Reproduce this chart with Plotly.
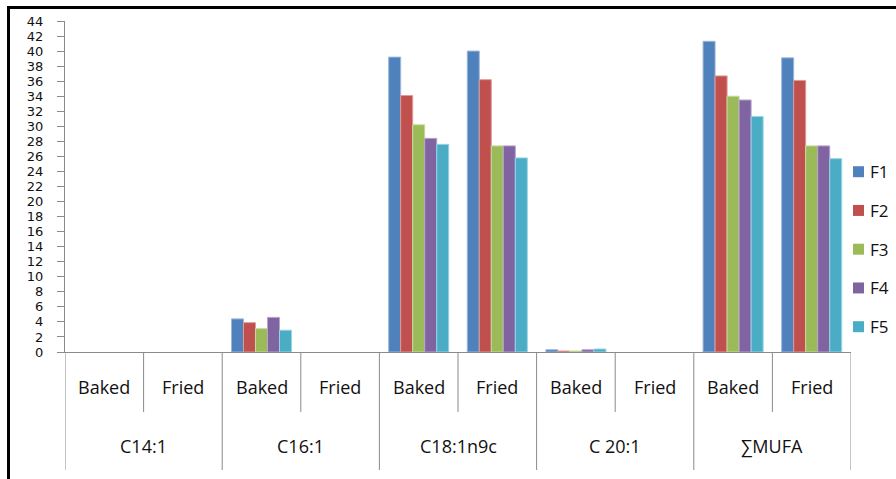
import plotly.graph_objects as go

# Fatty acid groups, cooking methods and formulations
groups = ["C14:1", "C16:1", "C18:1n9c", "C 20:1", "∑MUFA"]
methods = ["Baked", "Fried"]
series_names = ["F1", "F2", "F3", "F4", "F5"]

# Values per formulation, ordered (group, method)
F1 = [0, 0, 4.4, 0, 39.2, 40.0, 0.3, 0, 41.3, 39.1]
F2 = [0, 0, 3.9, 0, 34.1, 36.2, 0.13, 0, 36.7, 36.1]
F3 = [0, 0, 3.1, 0, 30.2, 27.4, 0.13, 0, 34.0, 27.4]
F4 = [0, 0, 4.6, 0, 28.4, 27.4, 0.3, 0, 33.5, 27.4]
F5 = [0, 0, 2.9, 0, 27.6, 25.8, 0.4, 0, 31.3, 25.7]
series_values = [F1, F2, F3, F4, F5]

colors = ["#4F81BD", "#C0504D", "#9BBB59", "#8064A2", "#4BACC6"]
edges = ["#9DB7DA", "#DE9A98", "#C6DA9F", "#B6A4CB", "#98D4E3"]

# Each (group, method) pair gets a slot on a numeric axis
slots = [(g, m) for g in groups for m in methods]
xpos = list(range(len(slots)))

fig = go.Figure()
for name, vals, c, ec in zip(series_names, series_values, colors, edges):
    fig.add_trace(go.Bar(
        x=xpos, y=vals, name=name, showlegend=False,
        marker=dict(color=c,
                    line=dict(color=ec, width=[1 if v > 0 else 0 for v in vals])),
    ))

W, H = 896, 479
L, R, T, B = 65, 851, 21, 352


def py(pix):
    return (B - pix) / (B - T)


def px(pix):
    return (pix - L) / (R - L)


axis_grey = "#8a8a8a"
label_font = dict(family="Open Sans", size=18, color="#111")
shapes = []
annotations = []

# Category axis: group dividers, method dividers and two rows of labels
for k in range(len(groups) + 1):
    shapes.append(dict(type="line", xref="x", yref="paper",
                       x0=-0.5 + 2 * k, x1=-0.5 + 2 * k, y0=0, y1=py(470),
                       line=dict(color=axis_grey, width=1)))
for k in range(len(groups)):
    shapes.append(dict(type="line", xref="x", yref="paper",
                       x0=0.5 + 2 * k, x1=0.5 + 2 * k, y0=0, y1=py(412),
                       line=dict(color=axis_grey, width=1)))
    annotations.append(dict(xref="x", yref="paper", x=0.5 + 2 * k, y=py(446),
                            text=groups[k], showarrow=False, yanchor="middle",
                            font=label_font))
for i, (g, m) in enumerate(slots):
    annotations.append(dict(xref="x", yref="paper", x=i, y=py(387),
                            text=m, showarrow=False, yanchor="middle",
                            font=label_font))

# Key: a coloured square and name per formulation, stacked on the right
key_top, key_step = 171.7, 38.75
for i, (name, c) in enumerate(zip(series_names, colors)):
    yc = key_top + i * key_step
    shapes.append(dict(type="rect", xref="paper", yref="paper",
                       x0=px(853), x1=px(864), y0=py(yc + 5.5), y1=py(yc - 5.5),
                       fillcolor=c, line=dict(width=0)))
    annotations.append(dict(xref="paper", yref="paper", x=px(868), y=py(yc),
                            xanchor="left", yanchor="middle", text=name,
                            showarrow=False,
                            font=dict(family="Open Sans", size=17, color="#111")))

# Outer frame: left and top edges
shapes.append(dict(type="line", xref="paper", yref="paper",
                   x0=px(8.5), x1=px(8.5), y0=py(485), y1=py(7.5),
                   line=dict(color="black", width=3)))
shapes.append(dict(type="line", xref="paper", yref="paper",
                   x0=px(7), x1=px(900), y0=py(7.5), y1=py(7.5),
                   line=dict(color="black", width=3)))

fig.update_layout(
    width=W, height=H,
    margin=dict(l=L, r=W - R, t=T, b=H - B, autoexpand=False),
    paper_bgcolor="white", plot_bgcolor="white",
    barmode="group", bargap=0.236, bargroupgap=0,
    showlegend=False,
    xaxis=dict(range=[-0.5, 9.5], showticklabels=False, ticks="",
               showgrid=False, zeroline=False, showline=True,
               linecolor=axis_grey, linewidth=1),
    yaxis=dict(range=[0, 44], dtick=2, tick0=0, ticks="outside", ticklen=7,
               tickcolor=axis_grey, showgrid=False, zeroline=False,
               showline=True, linecolor=axis_grey, linewidth=1,
               ticklabelstandoff=11,
               tickfont=dict(family="DejaVu Sans", size=13, color="#111")),
    shapes=shapes, annotations=annotations,
)

fig.write_html("out.html")
